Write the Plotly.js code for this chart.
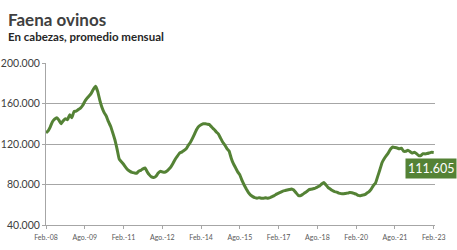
<!DOCTYPE html>
<html>
<head>
<meta charset="utf-8">
<script src="https://cdn.plot.ly/plotly-3.0.1.min.js"></script>
<style>html,body{margin:0;padding:0;background:#fff;}#chart{width:457px;height:250px;}</style>
</head>
<body>
<div id="chart"></div>
<script>
// Monthly values, Feb-08 .. Feb-23 (heads, monthly average)
const faena = [
131000,133000,137000,142000,144500,146000,143500,140000,143000,145000,
144000,149000,146000,152000,152500,154000,155500,158000,162000,165000,
167500,170000,174000,177000,172000,163000,156000,151000,147500,142000,
137500,131000,124000,115000,105000,102500,100000,97000,94500,93000,
92000,91500,91000,93000,94000,95500,96300,92500,89500,87500,
87000,88000,91000,93000,92500,92000,93000,95000,97500,101000,
105000,108000,111000,112000,113500,115000,118500,121500,125500,130000,
134500,137500,139000,140000,140000,139500,139000,136500,134500,132000,
130000,126000,122000,119000,115500,113000,106000,100500,96500,92500,
89500,84000,79500,75500,72000,69500,68000,67000,66500,67000,
66500,66500,66800,66500,67000,68000,69000,70500,71500,72500,
73500,74000,74500,75000,75500,74500,72000,69500,68800,70000,
71500,73000,74800,75300,75800,76500,77500,78500,80500,82000,
79500,77000,75500,74000,73000,72500,71500,71000,70800,71200,
71500,72000,71800,71200,70500,69200,69000,69500,70000,71500,
73000,75500,79000,81500,88000,94500,101500,105500,108500,111500,
115000,117000,116500,116000,115300,115800,113000,112800,113800,112500,
111000,111800,110500,108600,108500,110500,110200,110600,111200,111800,
111605
];
const tickLabels = ["Feb.-08","Ago.-09","Feb.-11","Ago.-12","Feb.-14","Ago.-15","Feb.-17","Ago.-18","Feb.-20","Ago.-21","Feb.-23"];
const yTicks = [40000, 80000, 120000, 160000, 200000];

const monthIdx = faena.map((_, i) => i);
const tickVals = tickLabels.map((_, i) => i * 18);
const lastVal = faena[faena.length - 1];
const fmt = v => v.toString().replace(/\B(?=(\d{3})+(?!\d))/g, ".");

const green = "#548235";
const fnt = "Lato, 'Open Sans', sans-serif";

const data = [{
  x: monthIdx, y: faena, type: "scatter", mode: "lines",
  line: {color: green, width: 3, shape: "spline", smoothing: 0.3},
  hoverinfo: "skip"
}];

const layout = {
  width: 457, height: 250,
  margin: {l: 46, r: 22, t: 63, b: 25},
  paper_bgcolor: "#fff", plot_bgcolor: "#fff",
  separators: ",.",
  showlegend: false,
  font: {family: fnt, color: "#404040"},
  xaxis: {
    range: [0, 180.6], tickvals: tickVals, ticktext: tickLabels,
    showgrid: false, zeroline: false,
    showline: true, linecolor: "#a6a6a6", linewidth: 1,
    ticks: "outside", ticklen: 3, tickcolor: "#a6a6a6",
    ticklabelstandoff: 3,
    tickfont: {size: 7, color: "#595959", family: fnt}
  },
  yaxis: {
    range: [40000, 200000], tickvals: yTicks, ticktext: yTicks.map(fmt),
    showgrid: true, gridcolor: "#a6a6a6", gridwidth: 1, zeroline: false,
    showline: true, linecolor: "#a6a6a6", linewidth: 1,
    ticks: "outside", ticklen: 3, tickcolor: "#a6a6a6",
    ticklabelstandoff: 0,
    tickfont: {size: 10.5, color: "#404040", family: fnt}
  },
  annotations: [
    {xref: "paper", yref: "paper", x: -40/389, y: 1 + 44/162, xanchor: "left", yanchor: "middle",
     text: "<b>Faena ovinos</b>", showarrow: false, font: {size: 17, color: "#404040", family: fnt}},
    {xref: "paper", yref: "paper", x: -40/389, y: 1 + 26/162, xanchor: "left", yanchor: "middle",
     text: "<b>En cabezas, promedio mensual</b>", showarrow: false, font: {size: 11.5, color: "#262626", family: fnt}},
    {xref: "paper", yref: "y", x: (457-46)/389, y: 95500, xanchor: "right", yanchor: "middle",
     text: fmt(lastVal), showarrow: false, bgcolor: green, borderpad: 2,
     font: {size: 12.5, color: "#ffffff", family: fnt}}
  ]
};

Plotly.newPlot("chart", data, layout, {displayModeBar: false, staticPlot: true});
</script>
</body>
</html>
